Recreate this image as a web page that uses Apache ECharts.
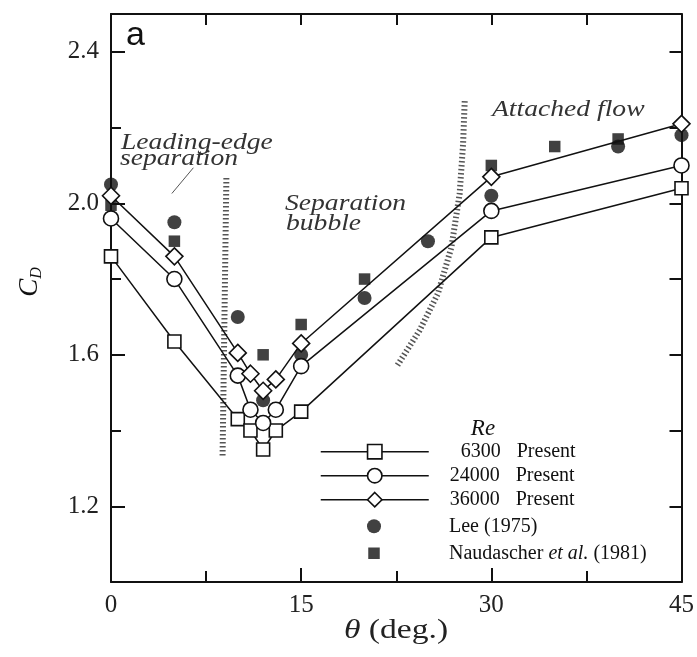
<!DOCTYPE html>
<html><head><meta charset="utf-8">
<script src="https://cdn.jsdelivr.net/npm/echarts@6/dist/echarts.min.js"></script>
<style>html,body{margin:0;padding:0;background:#fff}#c{width:697px;height:657px}</style>
</head><body><div id="c"></div>
<script>
// ---- data ----
const thetaPresent = [0, 5, 10, 11, 12, 13, 15, 30, 45];
const cd6300  = [1.86, 1.635, 1.43, 1.40, 1.35, 1.40, 1.45, 1.91, 2.04];
const cd24000 = [1.96, 1.80, 1.545, 1.455, 1.42, 1.455, 1.57, 1.98, 2.10];
const cd36000 = [2.02, 1.86, 1.605, 1.55, 1.505, 1.535, 1.63, 2.07, 2.21];
const leeTheta = [0, 5, 10, 12, 15, 20, 25, 30, 40, 45];
const leeCd    = [2.05, 1.95, 1.70, 1.48, 1.60, 1.75, 1.90, 2.02, 2.15, 2.18];
const naudTheta = [0, 5, 12, 15, 20, 30, 35, 40];
const naudCd    = [1.995, 1.90, 1.60, 1.68, 1.80, 2.10, 2.15, 2.17];
// regime boundaries (hatched) and leader line
const bandLeftTheta  = [9.1, 8.8];
const bandLeftCd     = [2.067, 1.332];
const bandRightTheta = [27.9, 27.77, 27.5, 26.85, 25.79, 24.35, 22.51];
const bandRightCd    = [2.27, 2.156, 2.025, 1.884, 1.762, 1.665, 1.568];
const leaderTheta = [4.8, 6.5];
const leaderCd    = [2.026, 2.094];
// ticks
const xLabelValues = [0, 15, 30, 45];
const yLabelValues = [1.2, 1.6, 2.0, 2.4];
const yMinorValues = [1.4, 1.8, 2.2];

const pair = (xs, ys) => xs.map((x, i) => [x, ys[i]]);
const ink = '#111';
const serif = '"Liberation Serif", "Times New Roman", serif';

function present(name, ys, symbol, size) {
  return {
    type: 'line', name, data: pair(thetaPresent, ys), symbol, symbolSize: size,
    showAllSymbol: true, clip: false, silent: true, z: 3,
    lineStyle: { color: ink, width: 1.5 },
    itemStyle: { color: '#fff', borderColor: ink, borderWidth: 1.6 }
  };
}
function band(xs, ys, w) {
  return {
    type: 'line', data: pair(xs, ys), symbol: 'none', silent: true, z: 1, clip: false,
    lineStyle: { color: '#555', width: w, type: [1.5, 2.5] }
  };
}
function note(text, x, y) {
  return { type: 'text', x, y, scaleX: 1.15,
    style: { text, font: 'italic 24px ' + serif, fill: '#333', verticalAlign: 'middle' } };
}

const chart = echarts.init(document.getElementById('c'), null, { renderer: 'canvas' });
const tickLabel = { fontFamily: serif, fontSize: 25, color: '#222' };
chart.setOption({
  animation: false,
  backgroundColor: '#fff',
  grid: { left: 111, right: 15, top: 14, bottom: 75 },
  xAxis: [
    {
      type: 'value', min: 0, max: 45, interval: 15, position: 'bottom',
      axisLine: { onZero: false, lineStyle: { color: ink, width: 2 } },
      axisTick: { inside: true, length: 14, lineStyle: { color: ink, width: 2 } },
      minorTick: { show: true, splitNumber: 2, length: 11, lineStyle: { color: ink, width: 2 } },
      axisLabel: { ...tickLabel, margin: 11, customValues: xLabelValues },
      splitLine: { show: false }, minorSplitLine: { show: false }
    },
    {
      type: 'value', min: 0, max: 45, interval: 7.5, position: 'top',
      axisLine: { onZero: false, lineStyle: { color: ink, width: 2 } },
      axisTick: { inside: true, length: 11, lineStyle: { color: ink, width: 2 } },
      axisLabel: { show: false }, splitLine: { show: false }
    }
  ],
  yAxis: [
    {
      type: 'value', min: 1.0, max: 2.5, position: 'left',
      axisLine: { onZero: false, lineStyle: { color: ink, width: 2 } },
      axisTick: { inside: true, length: 14, customValues: yLabelValues, lineStyle: { color: ink, width: 2 } },
      axisLabel: { ...tickLabel, margin: 12, customValues: yLabelValues, formatter: v => v.toFixed(1) },
      splitLine: { show: false }
    },
    {
      type: 'value', min: 1.0, max: 2.5, position: 'left',
      axisLine: { show: false },
      axisTick: { inside: true, length: 10, customValues: yMinorValues, lineStyle: { color: ink, width: 2 } },
      axisLabel: { show: false }, splitLine: { show: false }
    },
    {
      type: 'value', min: 1.0, max: 2.5, interval: 0.2, position: 'right',
      axisLine: { onZero: false, lineStyle: { color: ink, width: 2 } },
      axisTick: { inside: true, length: 12, lineStyle: { color: ink, width: 2 } },
      axisLabel: { show: false }, splitLine: { show: false }
    }
  ],
  legend: [
    {
      data: ['6300', '24000', '36000'], orient: 'vertical', left: 320, top: 441.7, padding: 0,
      itemWidth: 108, itemHeight: 18, itemGap: 4, selectedMode: false,
      itemStyle: { borderColor: ink, borderWidth: 1.6, color: '#fff' },
      lineStyle: { color: ink, width: 1.5 },
      formatter: n => (n.length === 4 ? '{n4|' + n + '}' : '{n5|' + n + '}') + '{p|Present}',
      textStyle: { fontFamily: serif, fontSize: 20, color: ink, rich: {
        n4: { fontFamily: serif, fontSize: 20, color: ink, padding: [0, 0, 0, 27], lineHeight: 18 },
        n5: { fontFamily: serif, fontSize: 20, color: ink, padding: [0, 0, 0, 16], lineHeight: 18 },
        p:  { fontFamily: serif, fontSize: 20, color: ink, padding: [0, 0, 0, 16], lineHeight: 18 }
      } }
    },
    {
      data: ['Lee (1975)'], orient: 'vertical', left: 367, top: 516.3, padding: 0,
      itemWidth: 14, itemHeight: 14, selectedMode: false,
      itemStyle: { color: ink, borderWidth: 0 },
      formatter: n => '{x|' + n + '}',
      textStyle: { fontFamily: serif, fontSize: 20, color: ink, rich: {
        x: { fontFamily: serif, fontSize: 20, color: ink, padding: [0, 0, 0, 63], lineHeight: 14 }
      } }
    },
    {
      data: ['Naudascher et al. (1981)'], orient: 'vertical', left: 368.25, top: 543.25, padding: 0,
      itemWidth: 11.5, itemHeight: 11.5, selectedMode: false,
      itemStyle: { color: ink, borderWidth: 0 },
      formatter: () => '{x|Naudascher }{i|et al.}{y| (1981)}',
      textStyle: { fontFamily: serif, fontSize: 20, color: ink, rich: {
        x: { fontFamily: serif, fontSize: 20, color: ink, padding: [0, 0, 0, 64.25], lineHeight: 11.5 },
        i: { fontFamily: serif, fontStyle: 'italic', fontSize: 20, color: ink, lineHeight: 11.5 },
        y: { fontFamily: serif, fontSize: 20, color: ink, lineHeight: 11.5 }
      } }
    }
  ],
  series: [
    band(bandLeftTheta, bandLeftCd, 6),
    band(bandRightTheta, bandRightCd, 6),
    { type: 'line', data: pair(leaderTheta, leaderCd), symbol: 'none', silent: true, z: 1,
      lineStyle: { color: '#555', width: 1 } },
    { type: 'scatter', name: 'Lee (1975)', data: pair(leeTheta, leeCd), symbol: 'circle',
      symbolSize: 14, clip: false, silent: true, z: 2, itemStyle: { color: ink } },
    { type: 'scatter', name: 'Naudascher et al. (1981)', data: pair(naudTheta, naudCd), symbol: 'rect',
      symbolSize: 11.5, clip: false, silent: true, z: 2, itemStyle: { color: ink } },
    present('6300', cd6300, 'rect', 13),
    present('24000', cd24000, 'circle', 15),
    present('36000', cd36000, 'diamond', 17)
  ],
  graphic: [
    { type: 'text', x: 126, y: 36, style: { text: 'a', font: '34px "Liberation Sans", Arial, sans-serif', fill: ink, verticalAlign: 'middle' } },
    note('Leading-edge', 121, 142.5),
    note('separation', 120, 159),
    note('Separation', 285, 203.5),
    note('bubble', 286, 223.5),
    note('Attached flow', 492, 110),
    { type: 'text', x: 483, y: 428.7, style: { text: 'Re', font: 'italic 23px ' + serif, fill: ink, align: 'center', verticalAlign: 'middle' } },
    { type: 'text', x: 396, y: 631, scaleX: 1.2, style: {
        text: '{t|θ} (deg.)', align: 'center', verticalAlign: 'middle',
        font: '28px ' + serif, fill: '#222',
        rich: {
          t: { fontFamily: serif, fontStyle: 'italic', fontSize: 28, fill: '#222' }
        } } },
    { type: 'text', x: 30, y: 282, rotation: Math.PI / 2, style: {
        text: '{c|C}{d|D}', align: 'center', verticalAlign: 'middle',
        rich: {
          c: { fontFamily: serif, fontStyle: 'italic', fontSize: 27, fill: ink, lineHeight: 30, verticalAlign: 'middle' },
          d: { fontFamily: serif, fontStyle: 'italic', fontSize: 16, fill: ink, lineHeight: 30, verticalAlign: 'bottom' }
        } } }
  ]
});
</script>
</body></html>
